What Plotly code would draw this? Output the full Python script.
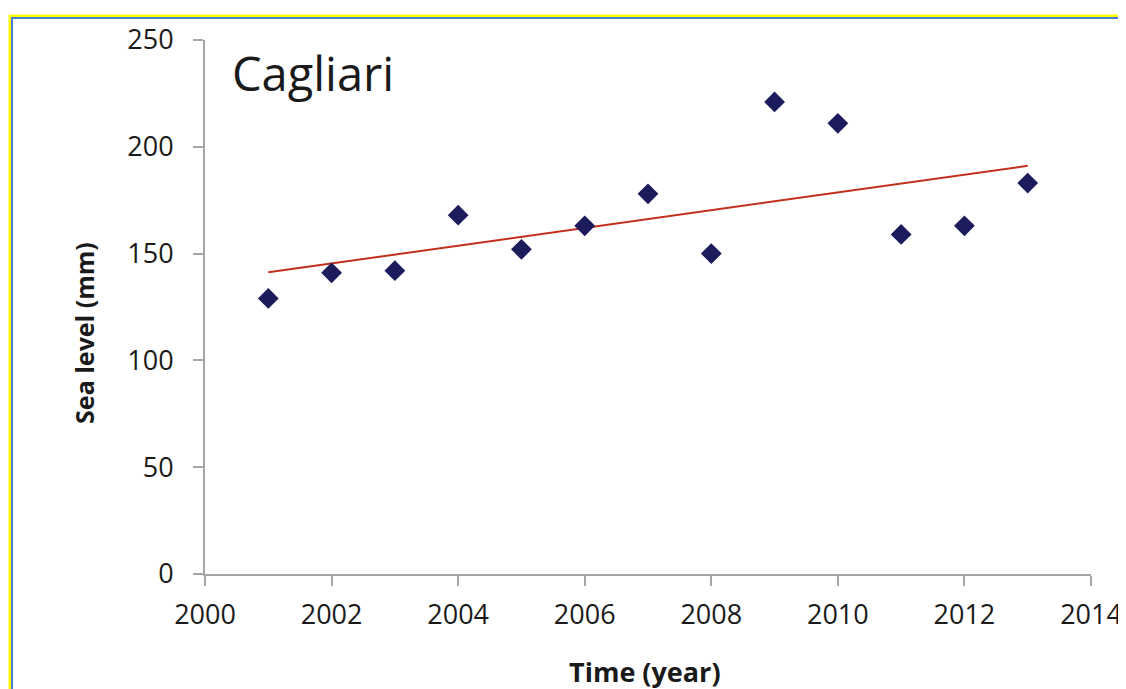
import numpy as np
import plotly.graph_objects as go

years = [2001, 2002, 2003, 2004, 2005, 2006, 2007, 2008, 2009, 2010, 2011, 2012, 2013]
sea_level = [129, 141, 142, 168, 152, 163, 178, 150, 221, 211, 159, 163, 183]
x_ticks = [2000, 2002, 2004, 2006, 2008, 2010, 2012, 2014]
y_ticks = [0, 50, 100, 150, 200, 250]

W, H = 1126, 689
OFF = 8  # page body margin offset
# target screen pixels of plot area: x 205..1091, y 38..574
L = 205 - OFF
T = 38 - OFF
R = W - (1091 - OFF)
B = H - (574 - OFF)
pw, ph = W - L - R, H - T - B

def px(x):  # screen pixel -> paper
    return (x - OFF - L) / pw

def py(y):
    return (H - B - (y - OFF)) / ph

slope, intercept = np.polyfit(years, sea_level, 1)
trend_x = [years[0], years[-1]]
trend_y = [slope * x + intercept for x in trend_x]

fig = go.Figure()
fig.add_trace(go.Scatter(x=trend_x, y=trend_y, mode="lines",
                         line=dict(color="#c0301c", width=2), showlegend=False))
fig.add_trace(go.Scatter(x=years, y=sea_level, mode="markers",
                         marker=dict(symbol="diamond", size=16, color="#1c1c5c"),
                         showlegend=False))

font = "Open Sans, Noto Sans, sans-serif"
axis_common = dict(showgrid=False, zeroline=False, showline=True, linecolor="#a6a6a6",
                   linewidth=2, ticks="outside", ticklen=10, tickcolor="#a6a6a6", tickwidth=2,
                   tickfont=dict(size=27, family=font, color="#1a1a1a"))
fig.update_layout(
    width=W, height=H,
    margin=dict(l=L, r=R, t=T, b=B),
    paper_bgcolor="white", plot_bgcolor="white",
    font=dict(family=font, color="#1a1a1a"),
    xaxis=dict(range=[2000, 2014], tickvals=x_ticks, ticklabelstandoff=6, **axis_common),
    yaxis=dict(range=[0, 250], tickvals=y_ticks, ticklabelstandoff=14, **axis_common),
    annotations=[
        dict(text="Cagliari", xref="paper", yref="paper", x=px(230), y=py(71),
             xanchor="left", yanchor="middle", showarrow=False,
             font=dict(size=47, family=font, color="#1a1a1a")),
        dict(text="<b>Time (year)</b>", xref="paper", yref="paper", x=px(645), y=py(672),
             xanchor="center", yanchor="middle", showarrow=False,
             font=dict(size=27, family=font, color="#1a1a1a")),
        dict(text="<b>Sea level (mm)</b>", xref="paper", yref="paper", x=px(84), y=py(332),
             xanchor="center", yanchor="middle", showarrow=False, textangle=-90,
             font=dict(size=25, family=font, color="#1a1a1a")),
    ],
    shapes=[
        dict(type="line", xref="paper", yref="paper", x0=px(10), x1=px(W + 20), y0=py(14), y1=py(14),
             line=dict(color="#ffff00", width=3)),
        dict(type="line", xref="paper", yref="paper", x0=px(12), x1=px(W + 20), y0=py(16), y1=py(16),
             line=dict(color="#4a7fd0", width=2)),
        dict(type="line", xref="paper", yref="paper", x0=px(10), x1=px(10), y0=py(13), y1=py(H + 20),
             line=dict(color="#ffff00", width=3)),
        dict(type="line", xref="paper", yref="paper", x0=px(12), x1=px(12), y0=py(15), y1=py(H + 20),
             line=dict(color="#4a7fd0", width=2)),
    ],
)

fig.write_html("out.html")
